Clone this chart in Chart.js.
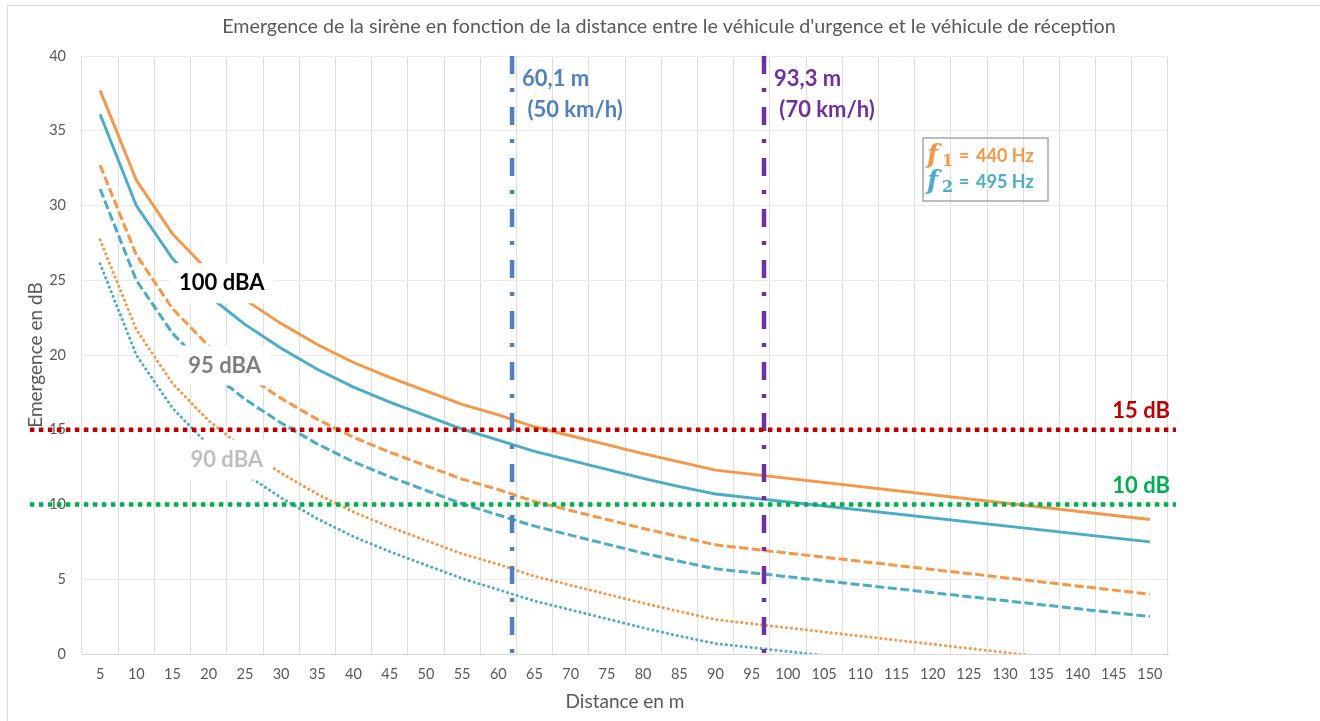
<!DOCTYPE html>
<html>
<head>
<meta charset="utf-8">
<script src="https://cdn.jsdelivr.net/npm/chart.js@4.4.0/dist/chart.umd.min.js"></script>
<style>
  body { margin: 0; background: #fff; }
  #wrap { position: relative; width: 1320px; height: 721px; overflow: hidden; }
  #frame { position: absolute; left: 7px; top: 5px; right: -2px; bottom: -2px; border-left: 1px solid #d9d9d9; border-top: 1px solid #d9d9d9; pointer-events: none; }
  canvas { position: absolute; left: 0; top: 0; }
</style>
</head>
<body>
<div id="wrap"><canvas id="chart" width="1320" height="721"></canvas><div id="frame"></div></div>
<script>
// distances (m) on the category axis
var distances = [5, 10, 15, 20, 25, 30, 35, 40, 45, 50, 55, 60, 65, 70, 75, 80, 85, 90,
    95, 100, 105, 110, 115, 120, 125, 130, 135, 140, 145, 150];

// emergence (dB), no values between 95 and 145 (line goes straight to 150)
var f1_100 = [37.7, 31.7, 28.1, 25.6, 23.7, 22.1, 20.7, 19.5, 18.5, 17.6, 16.7, 16.0, 15.2, 14.6, 14.0, 13.4, 12.85, 12.3,
    null, null, null, null, null, null, null, null, null, null, null, 9.0];
var f2_100 = [36.1, 30.0, 26.45, 23.95, 22.05, 20.45, 19.05, 17.85, 16.85, 15.95, 15.05, 14.3, 13.55, 12.95, 12.35, 11.75, 11.2, 10.7,
    null, null, null, null, null, null, null, null, null, null, null, 7.5];
var f1_95 = [32.7, 26.7, 23.1, 20.6, 18.7, 17.1, 15.7, 14.5, 13.5, 12.6, 11.7, 11.0, 10.2, 9.6, 9.0, 8.4, 7.85, 7.3,
    null, null, null, null, null, null, null, null, null, null, null, 4.0];
var f2_95 = [31.1, 25.0, 21.45, 18.95, 17.05, 15.45, 14.05, 12.85, 11.85, 10.95, 10.05, 9.3, 8.55, 7.95, 7.35, 6.75, 6.2, 5.7,
    null, null, null, null, null, null, null, null, null, null, null, 2.5];
var f1_90 = [27.7, 21.7, 18.1, 15.6, 13.7, 12.1, 10.7, 9.5, 8.5, 7.6, 6.7, 6.0, 5.2, 4.6, 4.0, 3.4, 2.85, 2.3,
    null, null, null, null, null, null, null, null, null, null, null, -1.0];
var f2_90 = [26.1, 20.0, 16.45, 13.95, 12.05, 10.45, 9.05, 7.85, 6.85, 5.95, 5.05, 4.3, 3.55, 2.95, 2.35, 1.75, 1.2, 0.7,
    null, null, null, null, null, null, null, null, null, null, null, -2.5];

var yTicks = [0, 5, 10, 15, 20, 25, 30, 35, 40];

// reference lines
var thresholds = [15, 10];
var thresholdLabels = ['15 dB', '10 dB'];
var stopDistances = [61.9, 96.7];
var stopLabels = [['60,1 m', ' (50 km/h)'], ['93,3 m', ' (70 km/h)']];
var freqs = ['440 Hz', '495 Hz'];

var TITLE = "Emergence de la sirène en fonction de la distance entre le véhicule d'urgence et le véhicule de réception";

var ORANGE = '#F79646';
var TEAL = '#4BACC6';
var RED = '#C00000';
var GREEN = '#00B050';
var BLUE = '#4F81BD';
var PURPLE = '#7030A0';
var GREY = '#595959';

Chart.defaults.font.family = 'Lato';
Chart.defaults.color = GREY;

function curve(label, data, color, style) {
    var ds = {
        label: label, data: data, borderColor: color, backgroundColor: color,
        borderWidth: 2.9, pointRadius: 0, spanGaps: true, tension: 0,
        xAxisID: 'x', yAxisID: 'y', order: 2
    };
    if (style === 'dash') {
        ds.borderDash = [9, 3.5];
        ds.borderWidth = 3;
    }
    if (style === 'dot') {
        ds.borderDash = [0.1, 4.9];
        ds.borderCapStyle = 'round';
        ds.borderWidth = 3;
    }
    return ds;
}

var refSets = [];
thresholds.forEach(function (lvl, i) {
    refSets.push({
        label: thresholdLabels[i],
        data: [{x: -4.7, y: lvl}, {x: 153.6, y: lvl}],
        xAxisID: 'xl', yAxisID: 'y', clip: false,
        borderColor: i === 0 ? RED : GREEN, borderWidth: 4.5, borderDash: [4.5, 4.5],
        pointRadius: 0, order: 0
    });
});
stopDistances.forEach(function (d, i) {
    refSets.push({
        label: stopLabels[i][0],
        data: [{x: d, y: 40}, {x: d, y: 0}],
        xAxisID: 'xl', yAxisID: 'y',
        borderColor: i === 0 ? BLUE : PURPLE, borderWidth: 4.5, borderDash: [18, 14, 4, 15],
        pointRadius: 0, order: 0
    });
});

var annotations = {
    id: 'annotations',
    afterDatasetsDraw: function (chart) {
        var ctx = chart.ctx;
        var X = chart.scales.xl, Y = chart.scales.y, area = chart.chartArea;
        ctx.save();
        ctx.textBaseline = 'middle';

        // chart title, centred on the whole frame
        ctx.textAlign = 'center';
        ctx.fillStyle = GREY;
        ctx.font = '19.7px Lato';
        ctx.fillText(TITLE, chart.width / 2 + 9, 27);

        // level labels on the curves
        var levels = [
            {text: '100 dBA', color: '#000000', d: 21.8, v: 24.8},
            {text: '95 dBA', color: '#7F7F7F', d: 22.2, v: 19.3},
            {text: '90 dBA', color: '#BFBFBF', d: 22.5, v: 13.0}
        ];
        ctx.font = 'bold 22px Lato';
        levels.forEach(function (l) {
            var cx = X.getPixelForValue(l.d), cy = Y.getPixelForValue(l.v);
            var w = ctx.measureText(l.text).width + 18;
            ctx.fillStyle = '#ffffff';
            ctx.fillRect(cx - w / 2, cy - 20, w, 40);
            ctx.fillStyle = l.color;
            ctx.fillText(l.text, cx, cy);
        });

        // stop distance labels
        ctx.textAlign = 'left';
        stopDistances.forEach(function (d, i) {
            var x = X.getPixelForValue(d) + 10;
            ctx.fillStyle = i === 0 ? BLUE : PURPLE;
            ctx.fillText(stopLabels[i][0], x, area.top + 23);
            ctx.fillText(stopLabels[i][1], x, area.top + 54);
        });

        // threshold labels
        ctx.textAlign = 'right';
        thresholds.forEach(function (lvl, i) {
            ctx.fillStyle = i === 0 ? RED : GREEN;
            ctx.fillText(thresholdLabels[i], area.right + 2, Y.getPixelForValue(lvl) - 19);
        });

        // frequency box
        var bx = area.right - 245, by = area.top + 82;
        ctx.strokeStyle = '#A6A6A6';
        ctx.lineWidth = 1.5;
        ctx.strokeRect(bx, by, 125, 63);
        ctx.textAlign = 'left';
        freqs.forEach(function (f, i) {
            var y = by + 18 + i * 26;
            ctx.fillStyle = i === 0 ? ORANGE : TEAL;
            ctx.font = 'italic bold 26px "DejaVu Serif"';
            ctx.fillText('f', bx + 4, y);
            ctx.font = 'bold 16px "DejaVu Serif"';
            ctx.fillText(String(i + 1), bx + 19, y + 6);
            ctx.font = 'bold 18px Lato';
            ctx.fillText('=', bx + 36, y);
            ctx.fillText(f, bx + 53, y);
        });
        ctx.restore();
    }
};

new Chart(document.getElementById('chart'), {
    type: 'line',
    data: {
        labels: distances,
        datasets: refSets.concat([
            curve('f1 100 dBA', f1_100, ORANGE, 'solid'),
            curve('f2 100 dBA', f2_100, TEAL, 'solid'),
            curve('f1 95 dBA', f1_95, ORANGE, 'dash'),
            curve('f2 95 dBA', f2_95, TEAL, 'dash'),
            curve('f1 90 dBA', f1_90, ORANGE, 'dot'),
            curve('f2 90 dBA', f2_90, TEAL, 'dot')
        ])
    },
    options: {
        responsive: false,
        animation: false,
        layout: {padding: {left: 7, right: 152, top: 56, bottom: 0}},
        plugins: {
            legend: {display: false},
            tooltip: {enabled: false},
            title: {display: false}
        },
        scales: {
            x: {
                type: 'category',
                offset: true,
                grid: {offset: true, color: '#DEDEDE', drawTicks: false},
                border: {color: '#D9D9D9'},
                ticks: {autoSkip: false, maxRotation: 0, padding: 12, font: {size: 14.5}, color: GREY},
                title: {display: true, text: 'Distance en m', color: GREY, font: {size: 19}, padding: {top: 0, bottom: 8}},
                afterFit: function (s) { s.height = 67; }
            },
            xl: {
                type: 'linear', display: false, min: 2.5, max: 152.5
            },
            y: {
                min: 0, max: 40,
                afterBuildTicks: function (s) { s.ticks = yTicks.map(function (v) { return {value: v}; }); },
                grid: {color: '#EBEBEB', drawTicks: false},
                border: {display: false},
                ticks: {padding: 16, font: {size: 14.5}, color: GREY},
                title: {display: true, text: 'Emergence en dB', color: GREY, font: {size: 19}, padding: {top: 17, bottom: 0}},
                afterFit: function (s) { s.width = 75; }
            }
        }
    },
    plugins: [annotations]
});
</script>
</body>
</html>
